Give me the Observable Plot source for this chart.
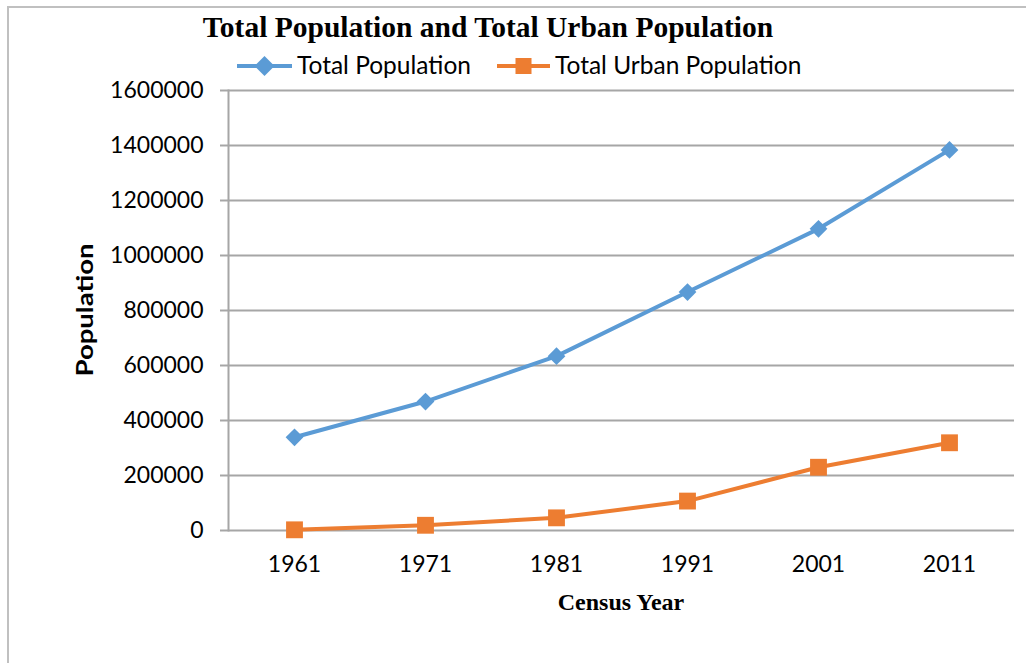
<!DOCTYPE html>
<html>
<head>
<meta charset="utf-8">
<script src="https://cdn.jsdelivr.net/npm/d3@7"></script>
<script src="https://cdn.jsdelivr.net/npm/@observablehq/plot@0.6"></script>
<style>
  html, body { margin: 0; padding: 0; background: #fff; }
  #wrap { position: relative; width: 1026px; height: 663px; overflow: hidden; background: #fff; }
  #frame { position: absolute; left: 7px; top: 6px; width: 1030px; height: 670px; border-left: 2px solid #c0c0c0; border-top: 2px solid #c0c0c0; }
  #title { position: absolute; left: 0; width: 976px; top: 13px; line-height: 1; text-align: center; font-family: "Liberation Serif", serif; font-weight: bold; font-size: 29.5px; color: #000; white-space: nowrap; }
  #legendsvg { position: absolute; left: 0; top: 0; }
  .legtext { position: absolute; top: 53px; line-height: 1; font-family: Lato, sans-serif; font-size: 24.5px; color: #000; white-space: nowrap; }
  #ytitle { position: absolute; left: 85px; top: 310px; line-height: 1; transform: translate(-50%, -50%) rotate(-90deg) scaleX(1.25); font-family: Lato, sans-serif; font-weight: bold; font-size: 22px; white-space: nowrap; color: #000; }
  #xtitle { position: absolute; left: 621px; top: 602px; line-height: 1; transform: translate(-50%, -50%); font-family: "Liberation Serif", serif; font-weight: bold; font-size: 24px; white-space: nowrap; color: #000; }
  #chart { position: absolute; left: 0; top: 80px; }
</style>
</head>
<body>
<div id="wrap">
  <div id="frame"></div>
  <div id="title">Total Population and Total Urban Population</div>
  <svg id="legendsvg" width="600" height="90"></svg>
  <div id="ytitle">Population</div>
  <div id="chart"></div>
  <div id="xtitle">Census Year</div>
</div>
<script>
const years = ["1961", "1971", "1981", "1991", "2001", "2011"];
const totalPopulation = [339000, 469000, 634000, 867000, 1097000, 1384000];
const urbanPopulation = [2500, 19000, 46000, 107000, 230000, 319000];
const seriesNames = ["Total Population", "Total Urban Population"];
const yTicks = [0, 200000, 400000, 600000, 800000, 1000000, 1200000, 1400000, 1600000];

const colors = {"Total Population": "#5b9bd5", "Total Urban Population": "#ed7d31"};

const tot = years.map((y, i) => ({year: y, value: totalPopulation[i], series: seriesNames[0]}));
const urb = years.map((y, i) => ({year: y, value: urbanPopulation[i], series: seriesNames[1]}));

const chart = Plot.plot({
  width: 1026,
  height: 583,
  marginTop: 10,
  marginBottom: 133,
  marginLeft: 228,
  marginRight: 12,
  style: {fontFamily: "Lato, sans-serif", fontSize: "23px", color: "#000", background: "transparent", overflow: "visible"},
  x: {type: "point", domain: years, padding: 0.5, label: null},
  y: {domain: [0, 1600000], label: null},
  marks: [
    Plot.ruleY(yTicks, {stroke: "#a6a6a6", strokeWidth: 2}),
    Plot.frame({anchor: "left", stroke: "#a6a6a6", strokeWidth: 2}),
    Plot.axisY(yTicks, {tickSize: 8, tickPadding: 17, stroke: "#a6a6a6", fill: "#000", tickFormat: d => String(d), label: null, strokeWidth: 2}),
    Plot.axisX({tickSize: 0, tickPadding: 25, fill: "#000", label: null}),
    Plot.line(tot, {x: "year", y: "value", stroke: colors[seriesNames[0]], strokeWidth: 4}),
    Plot.line(urb, {x: "year", y: "value", stroke: colors[seriesNames[1]], strokeWidth: 4}),
    Plot.dot(tot, {x: "year", y: "value", symbol: () => "diamond2", fill: colors[seriesNames[0]], r: 8}),
    Plot.dot(urb, {x: "year", y: "value", symbol: () => "square", fill: colors[seriesNames[1]], r: 9.5})
  ]
});
document.getElementById("chart").appendChild(chart);

// legend
const leg = d3.select("#legendsvg");
const legendItems = [
  {name: seriesNames[0], x1: 237, x2: 292, textX: 297, marker: "diamond"},
  {name: seriesNames[1], x1: 497, x2: 550, textX: 555, marker: "square"}
];
legendItems.forEach(it => {
  const c = colors[it.name];
  const cx = (it.x1 + it.x2) / 2, cy = 66;
  leg.append("line").attr("x1", it.x1).attr("x2", it.x2).attr("y1", cy).attr("y2", cy)
    .attr("stroke", c).attr("stroke-width", 4);
  if (it.marker === "diamond") {
    leg.append("polygon").attr("points", `${cx},${cy-10} ${cx+10},${cy} ${cx},${cy+10} ${cx-10},${cy}`).attr("fill", c);
  } else {
    leg.append("rect").attr("x", cx - 8).attr("y", cy - 8).attr("width", 16).attr("height", 16).attr("fill", c);
  }
  const t = document.createElement("div");
  t.className = "legtext";
  t.style.left = it.textX + "px";
  t.textContent = it.name;
  document.getElementById("wrap").appendChild(t);
});
</script>
</body>
</html>
